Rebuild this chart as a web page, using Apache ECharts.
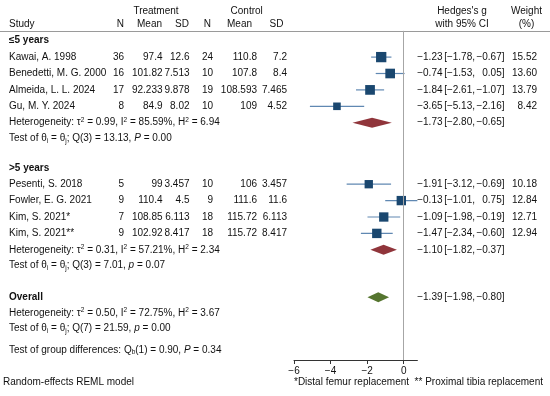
<!DOCTYPE html>
<html>
<head>
<meta charset="utf-8">
<script src="https://cdn.jsdelivr.net/npm/echarts@6/dist/echarts.min.js"></script>
<style>html,body{margin:0;padding:0;background:#fff}#c{width:550px;height:396px}</style>
</head>
<body>
<div id="c"></div>
<script>
// ---------- DATA ----------
const studies = ['Kawai, A. 1998','Benedetti, M. G. 2000','Almeida, L. L. 2024','Gu, M. Y. 2024',
                 'Pesenti, S. 2018','Fowler, E. G. 2021','Kim, S. 2021*','Kim, S. 2021**'];
const studyGroup = [0,0,0,0,1,1,1,1];
const treatN    = ['36','16','17','8','5','9','7','9'];
const treatMean = ['97.4','101.82','92.233','84.9','99','110.4','108.85','102.92'];
const treatSD   = ['12.6','7.513','9.878','8.02','3.457','4.5','6.113','8.417'];
const ctrlN     = ['24','10','19','10','10','9','18','18'];
const ctrlMean  = ['110.8','107.8','108.593','109','106','111.6','115.72','115.72'];
const ctrlSD    = ['7.2','8.4','7.465','4.52','3.457','11.6','6.113','8.417'];
const hedgesG   = [-1.23,-0.74,-1.84,-3.65,-1.91,-0.13,-1.09,-1.47];
const ciLow     = [-1.78,-1.53,-2.61,-5.13,-3.12,-1.01,-1.98,-2.34];
const ciHigh    = [-0.67,0.05,-1.07,-2.16,-0.69,0.75,-0.19,-0.60];
const weights   = [15.52,13.60,13.79,8.42,10.18,12.84,12.71,12.94];

const groupNames = ['≤5 years','>5 years'];
const groupG   = [-1.73,-1.10];
const groupLow = [-2.80,-1.82];
const groupHigh= [-0.65,-0.37];
const groupTau2= ['0.99','0.31'];
const groupI2  = ['85.59','57.21'];
const groupH2  = ['6.94','2.34'];
const groupQdf = ['3','3'];
const groupQ   = ['13.13','7.01'];
const groupPsym= ['P','p'];
const groupP   = ['0.00','0.07'];

const overallG = -1.39, overallLow = -1.98, overallHigh = -0.80;
const overallTau2 = '0.50', overallI2 = '72.75', overallH2 = '3.67';
const overallQdf = '7', overallQ = '21.59', overallP = '0.00';
const diffQdf = '1', diffQ = '0.90', diffP = '0.34';

const xTicks = [-6,-4,-2,0];

// ---------- LAYOUT ----------
const FONT = 'Liberation Sans, Arial, Helvetica, sans-serif';
const TXT = '#111';
const UNIT = 16.4, ROW0 = 40.7, AXIS_Y = 360;
const yMin = -0.6, yMax = (AXIS_Y - ROW0) / UNIT;
const gridTop = ROW0 + yMin * UNIT;
const X_MIN = -6, X_MAX = 0.75, X0PIX = 294, PX_PER = 18.28;

const COL = { study: 9, tN: 124, tMean: 162.5, tSD: 189.5, cN: 213, cMean: 257, cSD: 287,
              est: 442.5, lo: 475, hi: 504.5, w: 537 };

function fmt(v){ return (v < 0 ? '\u2212' : '') + Math.abs(v).toFixed(2); }

const rows = [];
let s = 0;
const studySlot = [];
groupNames.forEach((gn, gi) => {
  if (gi > 0) s += 1.8;
  rows.push({kind:'label', text: gn, slot: s});
  studies.forEach((st, i) => {
    if (studyGroup[i] !== gi) return;
    s += 1;
    studySlot[i] = s;
    rows.push({kind:'study', i, slot: s});
  });
  s += 1;
  rows.push({kind:'het', tau2: groupTau2[gi], i2: groupI2[gi], h2: groupH2[gi], slot: s,
             est: groupG[gi], lo: groupLow[gi], hi: groupHigh[gi]});
  s += 0.95;
  rows.push({kind:'test', df: groupQdf[gi], q: groupQ[gi], psym: groupPsym[gi], p: groupP[gi], slot: s});
});
s += 1.95;
const overallSlot = s;
rows.push({kind:'label', text:'Overall', slot: s, est: overallG, lo: overallLow, hi: overallHigh});
s += 0.95;
rows.push({kind:'het', tau2: overallTau2, i2: overallI2, h2: overallH2, slot: s});
s += 0.95;
rows.push({kind:'test', df: overallQdf, q: overallQ, psym:'p', p: overallP, slot: s});
s += 1.3;
rows.push({kind:'diff', df: diffQdf, q: diffQ, p: diffP, slot: s});

const richStyles = {
  n:   {fontSize:10, fontFamily:FONT, fill:TXT, lineHeight:12},
  it:  {fontSize:10, fontFamily:FONT, fill:TXT, fontStyle:'italic', lineHeight:12},
  sup: {fontSize:6.5, fontFamily:FONT, fill:TXT, lineHeight:5, verticalAlign:'top'},
  sub: {fontSize:6.5, fontFamily:FONT, fill:TXT, lineHeight:5, verticalAlign:'bottom'}
};

function txt(x, y, text, align, extra){
  return {type:'text', style: Object.assign({x, y, text, align: align || 'left', verticalAlign:'middle',
          font: '10px ' + FONT, fill: TXT}, extra || {})};
}
function richTxt(x, y, text){
  return {type:'text', style:{x, y, text, align:'left', verticalAlign:'middle', rich: richStyles,
          fontSize:10, fontFamily:FONT, fill:TXT}};
}
function ciTexts(y, est, lo, hi){
  return [txt(COL.est, y, fmt(est), 'right'),
          txt(COL.lo, y, '[' + fmt(lo) + ',', 'right'),
          txt(COL.hi, y, fmt(hi) + ']', 'right')];
}

function renderTable(params, api){
  const r = rows[params.dataIndex];
  const y = api.coord([0, api.value(1)])[1];
  const ch = [];
  if (r.kind === 'label') {
    ch.push(txt(COL.study, y, r.text, 'left', {font: 'bold 10px ' + FONT}));
    if (r.est !== undefined) ch.push(...ciTexts(y, r.est, r.lo, r.hi));
  } else if (r.kind === 'study') {
    const i = r.i;
    ch.push(txt(COL.study, y, studies[i]));
    ch.push(txt(COL.tN, y, treatN[i], 'right'));
    ch.push(txt(COL.tMean, y, treatMean[i], 'right'));
    ch.push(txt(COL.tSD, y, treatSD[i], 'right'));
    ch.push(txt(COL.cN, y, ctrlN[i], 'right'));
    ch.push(txt(COL.cMean, y, ctrlMean[i], 'right'));
    ch.push(txt(COL.cSD, y, ctrlSD[i], 'right'));
    ch.push(...ciTexts(y, hedgesG[i], ciLow[i], ciHigh[i]));
    ch.push(txt(COL.w, y, weights[i].toFixed(2), 'right'));
  } else if (r.kind === 'het') {
    ch.push(richTxt(COL.study, y,
      '{n|Heterogeneity: τ}{sup|2}{n| = ' + r.tau2 + ', I}{sup|2}{n| = ' + r.i2 + '%, H}{sup|2}{n| = ' + r.h2 + '}'));
    if (r.est !== undefined) ch.push(...ciTexts(y, r.est, r.lo, r.hi));
  } else if (r.kind === 'test') {
    ch.push(richTxt(COL.study, y,
      '{n|Test of θ}{sub|i}{n| = θ}{sub|j}{n|; Q(' + r.df + ') = ' + r.q + ', }{it|' + r.psym + '}{n| = ' + r.p + '}'));
  } else if (r.kind === 'diff') {
    ch.push(richTxt(COL.study, y,
      '{n|Test of group differences: Q}{sub|b}{n|(' + r.df + ') = ' + r.q + ', }{it|P}{n| = ' + r.p + '}'));
  }
  return {type:'group', children: ch};
}

function renderStudy(params, api){
  const c = api.coord([api.value(0), api.value(1)]);
  const l = api.coord([api.value(2), api.value(1)]);
  const h = api.coord([api.value(3), api.value(1)]);
  const size = 10.3 * Math.sqrt(api.value(4) / 15.52);
  return {type:'group', children:[
    {type:'line', shape:{x1:l[0], y1:c[1], x2:h[0], y2:c[1]}, style:{stroke:'#6088b2', lineWidth:1.2}},
    {type:'rect', shape:{x:c[0]-size/2, y:c[1]-size/2, width:size, height:size}, style:{fill:'#1a476f'}}
  ]};
}

const diamondColors = ['#90353b','#90353b','#55752f'];
function renderDiamond(params, api){
  const c = api.coord([api.value(0), api.value(1)]);
  const l = api.coord([api.value(2), api.value(1)]);
  const h = api.coord([api.value(3), api.value(1)]);
  const hh = 5;
  return {type:'polygon', shape:{points:[[l[0],c[1]],[c[0],c[1]-hh],[h[0],c[1]],[c[0],c[1]+hh]]},
          style:{fill: diamondColors[params.dataIndex]}};
}

const diamondData = [];
rows.forEach(r => { if (r.kind === 'het' && r.est !== undefined) diamondData.push([r.est, r.slot, r.lo, r.hi]); });
diamondData.push([overallG, overallSlot, overallLow, overallHigh]);

const chart = echarts.init(document.getElementById('c'), null, {renderer:'canvas'});
chart.setOption({
  animation: false,
  backgroundColor: '#fff',
  grid: { left: X0PIX, top: gridTop, width: (X_MAX - X_MIN) * PX_PER, height: AXIS_Y - gridTop },
  xAxis: {
    type:'value', min: X_MIN, max: X_MAX, interval: 2, position:'bottom',
    splitLine:{show:false},
    axisLine:{show:true, onZero:false, lineStyle:{color:'#333', width:1}},
    axisTick:{show:true, length:4, lineStyle:{color:'#333'}, customValues: xTicks},
    axisLabel:{color:TXT, fontSize:10, fontFamily:FONT, margin:6, customValues: xTicks,
               formatter: v => (v < 0 ? '\u2212' + Math.abs(v) : String(v))}
  },
  yAxis: { type:'value', inverse:true, min:yMin, max:yMax, show:false },
  series: [
    { type:'custom', name:'table', renderItem: renderTable, encode:{x:0, y:1},
      data: rows.map(r => [0, r.slot]), silent:true, z:5 },
    { type:'custom', name:'studies', renderItem: renderStudy, encode:{x:0, y:1},
      data: studies.map((_, i) => [hedgesG[i], studySlot[i], ciLow[i], ciHigh[i], weights[i]]),
      z:4,
      markLine: { silent:true, symbol:'none', label:{show:false},
        lineStyle:{color:'#a6a6a6', width:1, type:'solid'}, data:[{xAxis:0}] } },
    { type:'custom', name:'pooled', renderItem: renderDiamond, encode:{x:0, y:1},
      data: diamondData, z:4 }
  ],
  graphic: [
    {type:'line', shape:{x1:0, y1:31.5, x2:550, y2:31.5}, style:{stroke:'#9a9a9a', lineWidth:1}},
    {type:'text', style:{x:156, y:11, text:'Treatment', align:'center', verticalAlign:'middle', font:'10px '+FONT, fill:TXT}},
    {type:'text', style:{x:246.7, y:11, text:'Control', align:'center', verticalAlign:'middle', font:'10px '+FONT, fill:TXT}},
    {type:'text', style:{x:462, y:11, text:"Hedges's g", align:'center', verticalAlign:'middle', font:'10px '+FONT, fill:TXT}},
    {type:'text', style:{x:526.5, y:11, text:'Weight', align:'center', verticalAlign:'middle', font:'10px '+FONT, fill:TXT}},
    {type:'text', style:{x:9, y:24, text:'Study', align:'left', verticalAlign:'middle', font:'10px '+FONT, fill:TXT}},
    {type:'text', style:{x:124, y:24, text:'N', align:'right', verticalAlign:'middle', font:'10px '+FONT, fill:TXT}},
    {type:'text', style:{x:162, y:24, text:'Mean', align:'right', verticalAlign:'middle', font:'10px '+FONT, fill:TXT}},
    {type:'text', style:{x:189, y:24, text:'SD', align:'right', verticalAlign:'middle', font:'10px '+FONT, fill:TXT}},
    {type:'text', style:{x:211, y:24, text:'N', align:'right', verticalAlign:'middle', font:'10px '+FONT, fill:TXT}},
    {type:'text', style:{x:252, y:24, text:'Mean', align:'right', verticalAlign:'middle', font:'10px '+FONT, fill:TXT}},
    {type:'text', style:{x:283.5, y:24, text:'SD', align:'right', verticalAlign:'middle', font:'10px '+FONT, fill:TXT}},
    {type:'text', style:{x:462, y:24, text:'with 95% CI', align:'center', verticalAlign:'middle', font:'10px '+FONT, fill:TXT}},
    {type:'text', style:{x:526.5, y:24, text:'(%)', align:'center', verticalAlign:'middle', font:'10px '+FONT, fill:TXT}},
    {type:'text', style:{x:3, y:382, text:'Random-effects REML model', align:'left', verticalAlign:'middle', font:'10px '+FONT, fill:TXT}},
    {type:'text', style:{x:543, y:382, text:'*Distal femur replacement  ** Proximal tibia replacement', align:'right', verticalAlign:'middle', font:'10px '+FONT, fill:TXT}}
  ]
});
</script>
</body>
</html>
